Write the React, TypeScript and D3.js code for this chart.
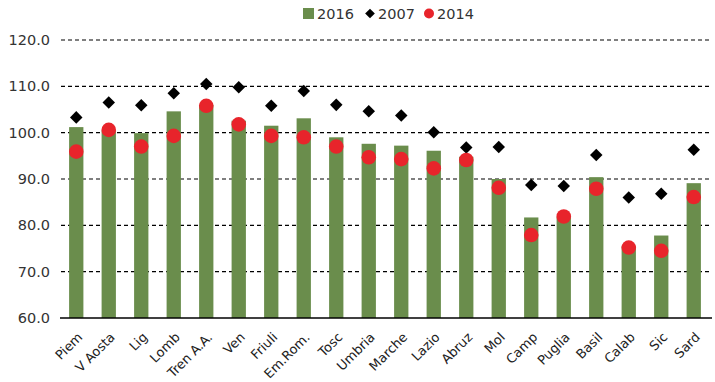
import React from "react";
import * as d3 from "d3";

const regions = ["Piem","V Aosta","Lig","Lomb","Tren A.A.","Ven","Friuli","Em.Rom.","Tosc","Umbria","Marche","Lazio","Abruz","Mol","Camp","Puglia","Basil","Calab","Sic","Sard"];
const v2016 = [101.2,100.5,99.9,104.6,106.0,102.6,101.5,103.1,99.0,97.6,97.2,96.1,94.8,90.0,81.7,81.8,90.4,75.5,77.8,89.1];
const v2007 = [103.3,106.5,105.9,108.5,110.5,109.8,105.8,109.0,106.0,104.6,103.7,100.1,96.8,96.9,88.7,88.5,95.2,86.0,86.8,96.3];
const v2014 = [95.9,100.6,97.0,99.3,105.8,101.8,99.3,99.0,97.0,94.7,94.3,92.3,94.1,88.1,77.9,81.9,87.9,75.2,74.5,86.1];
const yTicks = [60,70,80,90,100,110,120];

const W = 715, H = 382;
const FONT = "DejaVu Sans, sans-serif";

export default function App() {
  const x = d3.scaleBand<string>().domain(regions).range([60, 710]).paddingInner(0.56).paddingOuter(0.28);
  const y = d3.scaleLinear().domain([60, 120]).range([318, 40]);
  const diamond = d3.symbol().type(d3.symbolDiamond2).size(100)();
  return (
    <svg width={W} height={H} style={{ position: "absolute", left: 0, top: 0, background: "#fff" }}>
      {yTicks.map(t => (
        <g key={t}>
          {t > 60 && <line x1={61} x2={712} y1={y(t)} y2={y(t)} stroke="#000" strokeWidth={1.2} strokeDasharray="4,3" />}
          <text x={50} y={y(t)} dy="0.35em" textAnchor="end" fontFamily={FONT} fontSize={14.5} fill="#333">{t.toFixed(1)}</text>
        </g>
      ))}
      {regions.map((r, i) => (
        <rect key={r} x={x(r)} width={x.bandwidth()} y={y(v2016[i])} height={y(60) - y(v2016[i])} fill="#6a8d4c" />
      ))}
      <line x1={60} x2={712} y1={y(60)} y2={y(60)} stroke="#000" strokeWidth={1.5} />
      {regions.map((r, i) => (
        <path key={r} d={diamond!} transform={`translate(${x(r)! + x.bandwidth() / 2},${y(v2007[i])})`} fill="#000" />
      ))}
      {regions.map((r, i) => (
        <circle key={r} cx={x(r)! + x.bandwidth() / 2} cy={y(v2014[i])} r={7.3} fill="#e8242b" />
      ))}
      {regions.map(r => (
        <text key={r} transform={`translate(${x(r)! + x.bandwidth() / 2 + 7},${338}) rotate(-45)`} textAnchor="end" fontFamily={FONT} fontSize={13} fill="#222">{r}</text>
      ))}
      <g fontFamily={FONT} fontSize={14.5} fill="#333">
        <rect x={303} y={8} width={11} height={11} fill="#6a8d4c" />
        <text x={317} y={13.5} dy="0.35em">2016</text>
        <path d={d3.symbol().type(d3.symbolDiamond2).size(60)()!} transform="translate(370,13.5)" fill="#000" />
        <text x={378} y={13.5} dy="0.35em">2007</text>
        <circle cx={429} cy={13.5} r={5} fill="#e8242b" />
        <text x={437} y={13.5} dy="0.35em">2014</text>
      </g>
    </svg>
  );
}
